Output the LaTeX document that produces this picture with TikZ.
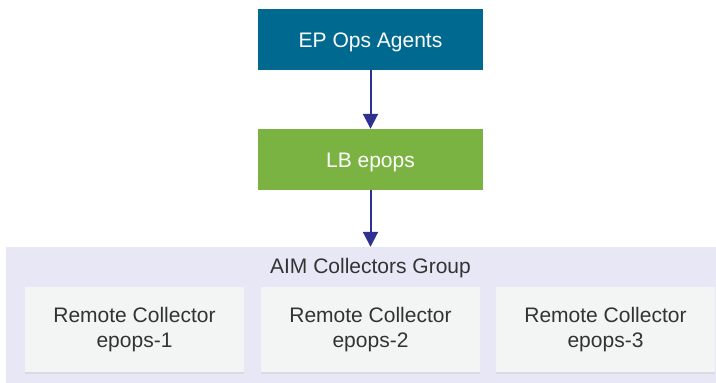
\documentclass[tikz,border=0pt]{standalone}
\usepackage{fontspec}
\setmainfont{Liberation Sans}
\usetikzlibrary{arrows.meta,shadows}
\definecolor{agentblue}{HTML}{00698F}
\definecolor{lbgreen}{HTML}{7AB342}
\definecolor{arrowblue}{HTML}{2E3192}
\definecolor{grouplilac}{HTML}{E8E7F5}
\definecolor{collgray}{HTML}{F3F4F4}
\definecolor{textgray}{HTML}{333333}

\begin{document}
\begin{tikzpicture}[x=1pt, y=-1pt, font=\fontsize{21}{25}\selectfont]
    \tikzset{%
      topbox/.style={minimum width=225pt, minimum height=61pt, inner sep=0pt, text=white,
        text height=15pt, text depth=0pt},
      collbox/.style={fill=collgray, minimum width=219pt, minimum height=85pt, inner sep=0pt,
        align=center, text=textgray,
        drop shadow={shadow xshift=0pt, shadow yshift=-1.5pt, opacity=0.06, fill=black}},
      flow/.style={draw=arrowblue, line width=2pt, -{Triangle[width=15pt,length=15pt]}}
      }
    \useasboundingbox (0,0) rectangle (716,383);

    \node [topbox, fill=agentblue] (agents) at (370.5, 39.5) {EP Ops Agents};
    \node [topbox, fill=lbgreen] (lb) at (370.5, 159.5) {LB epops};

    \node [fill=grouplilac, minimum width=710pt, minimum height=136pt, inner sep=0pt] (group) at (361, 315) {};
    \node [text=textgray] (grouptitle) at (370.5, 268.5) {AIM Collectors Group};

    \node [collbox] (rc1) at (134.5, 329.5) {Remote Collector\\epops-1};
    \node [collbox] (rc2) at (370.5, 329.5) {Remote Collector\\epops-2};
    \node [collbox] (rc3) at (605.5, 329.5) {Remote Collector\\epops-3};

    \draw [flow] (agents.south) -- (lb.north);
    \draw [flow] (lb.south) -- (lb.south |- group.north);

  \end{tikzpicture}
\end{document}
